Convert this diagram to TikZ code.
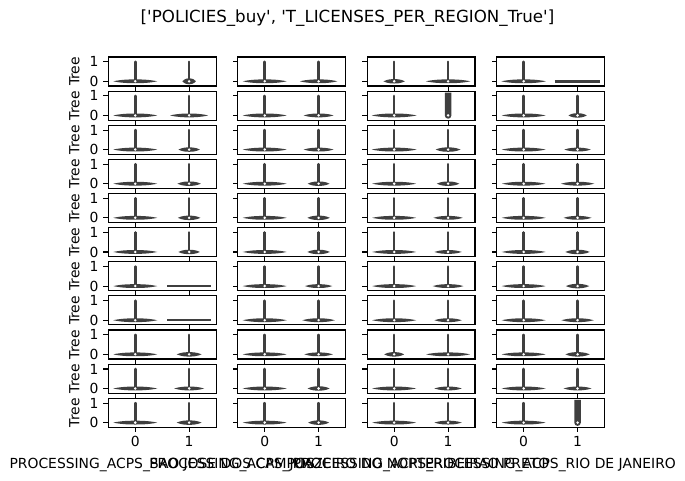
\documentclass[tikz,border=0pt]{standalone}
\usepackage{fontspec}
\newfontfamily\dv{DejaVu Sans}
\definecolor{vcol}{HTML}{3F3F3F}
\newcommand\vbody[3]{%
  \pgfmathsetmacro\hh{(#3<8)?3:((#3<13)?2.2:1.9)}%
  \fill[vcol] (#1-#3,#2) .. controls (#1-0.6*#3,#2-\hh) and (#1-0.2*#3,#2-\hh) .. (#1,#2-\hh)
     .. controls (#1+0.2*#3,#2-\hh) and (#1+0.6*#3,#2-\hh) .. (#1+#3,#2)
     .. controls (#1+0.6*#3,#2+\hh) and (#1+0.2*#3,#2+\hh) .. (#1,#2+\hh)
     .. controls (#1-0.2*#3,#2+\hh) and (#1-0.6*#3,#2+\hh) .. (#1-#3,#2) -- cycle;}
\newcommand\vwhisk[3]{\draw[vcol,line width=2.6pt,line cap=round] (#1,#2) -- (#1,#3);}
\newcommand\vdot[2]{\fill[white] (#1,#2) circle (1.4);}
\begin{document}
\begin{tikzpicture}[x=1pt,y=-1pt,
  frame/.style={black,line width=1.1pt},
  tickmark/.style={black,line width=1.1pt},
  lbl/.style={font=\fontsize{13.89}{16}\selectfont\dv, inner sep=0pt},
  ttl/.style={font=\fontsize{16.67}{20}\selectfont\dv, inner sep=0pt}]
\useasboundingbox (0,0) rectangle (685,480);
\fill[white] (0,0) rectangle (685,480);

% violins
\foreach \r/\c/\wa/\wb/\k in {
 1/1/22/6.8/n, 1/2/22/18.7/n, 1/3/10.7/22.3/n, 1/4/22.3/22.7/f,
 2/1/22/19/n, 2/2/22/15/n, 2/3/22.5/3.3/t, 2/4/22/9.2/n,
 3/1/22/10.8/n, 3/2/22/15/n, 3/3/22.5/12.5/n, 3/4/22/13.3/n,
 4/1/22/11.7/n, 4/2/22/11/n, 4/3/22/11.3/n, 4/4/21.7/16.7/n,
 5/1/22/11.3/n, 5/2/22/11.3/n, 5/3/22/14.7/n, 5/4/22/14/n,
 6/1/22/10.8/n, 6/2/22/11.3/n, 6/3/22/13.7/n, 6/4/22/12.2/n,
 7/1/22/22/f, 7/2/22/13.7/n, 7/3/22/15.5/n, 7/4/22/11.7/n,
 8/1/22/22/f, 8/2/22/16.3/n, 8/3/22/13.7/n, 8/4/22/16.2/n,
 9/1/22/12.5/n, 9/2/22/14.3/n, 9/3/10/22/n, 9/4/22/12.2/n,
 10/1/22/15/n, 10/2/22/11/n, 10/3/22/13.7/n, 10/4/22/14/n,
 11/1/22/12.5/n, 11/2/22/10.5/n, 11/3/22/13.7/n, 11/4/22/3.3/t}{
  \pgfmathsetmacro\L{108.3+129.47*(\c-1)}
  \pgfmathsetmacro\T{57+34.13*(\r-1)}
  \pgfmathsetmacro\xa{\L+26.95}
  \pgfmathsetmacro\xb{\L+80.85}
  \pgfmathsetmacro\yz{\T+24.3}
  \pgfmathsetmacro\yo{\T+4.8}
  \pgfmathsetmacro\yt{\T+1.6}
  % first violin
  \vbody{\xa}{\yz}{\wa}
  \vwhisk{\xa}{\yz}{\yo}
  \vdot{\xa}{\yz}
  % second violin
  \if\k f
    \draw[vcol,line width=2.4pt] (\xb-\wb,\yz) -- (\xb+\wb,\yz);
  \else\if\k t
    \fill[vcol] (\xb-\wb,\yt) -- (\xb+\wb,\yt) -- (\xb+\wb,\yz)
       arc[start angle=0,end angle=180,radius=\wb] -- cycle;
    \vdot{\xb}{\yz}
  \else
    \vbody{\xb}{\yz}{\wb}
    \vwhisk{\xb}{\yz}{\yo}
    \vdot{\xb}{\yz}
  \fi\fi
}

% frames and ticks
\foreach \r in {1,...,11}{
 \foreach \c in {1,...,4}{
  \pgfmathsetmacro\L{108.3+129.47*(\c-1)}
  \pgfmathsetmacro\T{57+34.13*(\r-1)}
  \pgfmathsetmacro\xa{\L+26.95}
  \pgfmathsetmacro\xb{\L+80.85}
  \pgfmathsetmacro\yz{\T+24.3}
  \pgfmathsetmacro\yo{\T+4.8}
  \draw[frame] (\L,\T) rectangle (\L+107.8,\T+29);
  \draw[tickmark] (\L,\yz) -- (\L-4.86,\yz);
  \draw[tickmark] (\L,\yo) -- (\L-4.86,\yo);
  \draw[tickmark] (\xa,\T+29) -- (\xa,\T+33.86);
  \draw[tickmark] (\xb,\T+29) -- (\xb,\T+33.86);
 }
 \pgfmathsetmacro\T{57+34.13*(\r-1)}
 \node[lbl,anchor=east] (ytone\r) at (98.6,\T+4.8) {1};
 \node[lbl,anchor=east] (ytzero\r) at (98.6,\T+24.3) {0};
 \node[lbl,rotate=90] (ylab\r) at (74.5,\T+14.5) {Tree};
}

% bottom tick labels
\foreach \c in {1,...,4}{
  \pgfmathsetmacro\L{108.3+129.47*(\c-1)}
  \node[lbl,anchor=base] (xtzero\c) at (\L+26.95,446.7) {0};
  \node[lbl,anchor=base] (xtone\c) at (\L+80.85,446.7) {1};
}

% axis labels (they overlap in the reference too)
\node[lbl,anchor=base] (xlab1) at (162.2,468.3) {PROCESSING\_ACPS\_SAO JOSE DOS CAMPOS};
\node[lbl,anchor=base] (xlab2) at (291.7,468.3) {PROCESSING\_ACPS\_JUAZEIRO DO NORTE};
\node[lbl,anchor=base] (xlab3) at (421.1,468.3) {PROCESSING\_ACPS\_RIBEIRAO PRETO};
\node[lbl,anchor=base] (xlab4) at (550.6,468.3) {PROCESSING\_ACPS\_RIO DE JANEIRO};

% title
\node[ttl,anchor=base] (title) at (347.5,22) {['POLICIES\_buy', 'T\_LICENSES\_PER\_REGION\_True']};
\end{tikzpicture}
\end{document}
